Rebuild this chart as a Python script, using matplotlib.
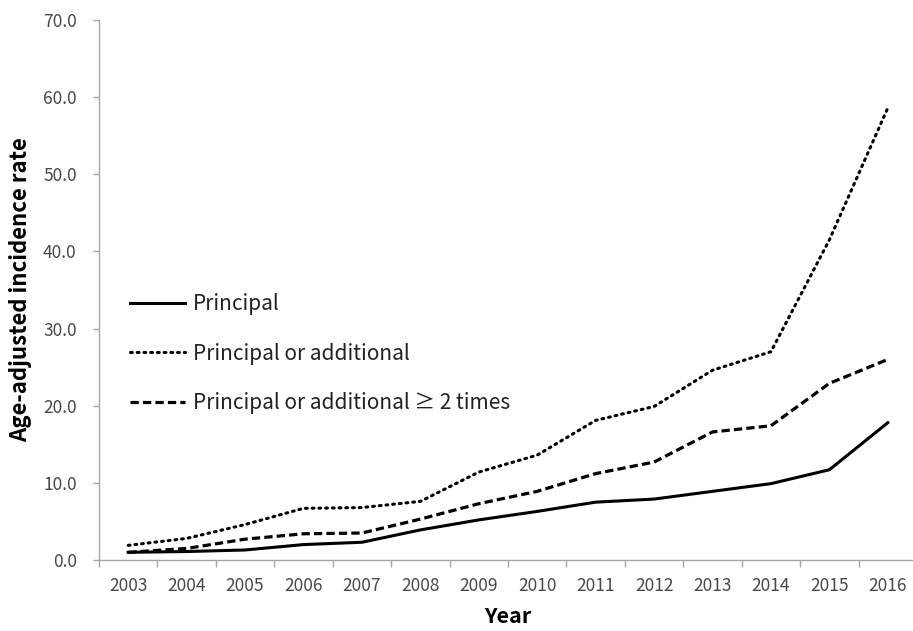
import matplotlib
matplotlib.use("Agg")
import matplotlib.pyplot as plt
import numpy as np

plt.rcParams['font.family'] = ['Noto Sans CJK KR', 'DejaVu Sans']

years = ['2003', '2004', '2005', '2006', '2007', '2008', '2009',
         '2010', '2011', '2012', '2013', '2014', '2015', '2016']

# age-adjusted incidence rate by definition
principal = [1.0, 1.1, 1.3, 2.0, 2.3, 3.9, 5.2, 6.3, 7.5, 7.9, 8.9, 9.9, 11.7, 17.8]
principal_or_add = [1.9, 2.8, 4.6, 6.7, 6.8, 7.6, 11.4, 13.6, 18.1, 19.9, 24.6, 27.0, 41.5, 58.6]
principal_or_add_2x = [1.0, 1.5, 2.7, 3.4, 3.5, 5.3, 7.3, 8.9, 11.2, 12.7, 16.6, 17.4, 22.9, 26.0]

labels = ['Principal', 'Principal or additional', 'Principal or additional \u2265 2 times']

fig = plt.figure(figsize=(9.13, 6.31), dpi=100)
ax = fig.add_axes([0.1084, 0.1125, 0.896, 0.8558])

x = np.arange(len(years))
ax.plot(x, principal, color='black', lw=2.2, linestyle='-', label=labels[0])
ax.plot(x, principal_or_add, color='black', lw=2.2, linestyle=(0, (0.6, 1.6)),
        dash_capstyle='round', label=labels[1])
ax.plot(x, principal_or_add_2x, color='black', lw=2.3, linestyle=(0, (2.6, 1.3)),
        label=labels[2])

ax.set_xlim(-0.5, len(years) - 0.5)
ax.set_ylim(0, 70)
ax.set_yticks(np.arange(0, 71, 10))
ax.set_yticklabels(['%.1f' % v for v in np.arange(0, 71, 10)])
ax.set_xticks(x)
ax.set_xticklabels(years)
ax.set_xticks(np.arange(-0.5, len(years), 1), minor=True)
ax.tick_params(axis='x', which='major', length=0, pad=12)
ax.tick_params(axis='x', which='minor', length=5, color='#a6a6a6', width=1)
ax.tick_params(axis='y', length=4, color='#a6a6a6', width=1, pad=12)
ax.tick_params(labelsize=12.5, labelcolor='#484848')

for side in ['top', 'right']:
    ax.spines[side].set_visible(False)
for side in ['left', 'bottom']:
    ax.spines[side].set_color('#a6a6a6')
    ax.spines[side].set_linewidth(1)

ax.set_xlabel('Year', fontsize=15.5, fontweight='bold', labelpad=8)
ax.set_ylabel('Age-adjusted incidence rate', fontsize=16, fontweight='bold', labelpad=8)

ax.legend(loc='upper left', bbox_to_anchor=(0.038, 0.494), frameon=False,
          fontsize=15, handlelength=2.64, handletextpad=0.38, labelspacing=1.31,
          borderpad=0, borderaxespad=0, labelcolor='#222222')

fig.savefig('out.png', dpi=100)
